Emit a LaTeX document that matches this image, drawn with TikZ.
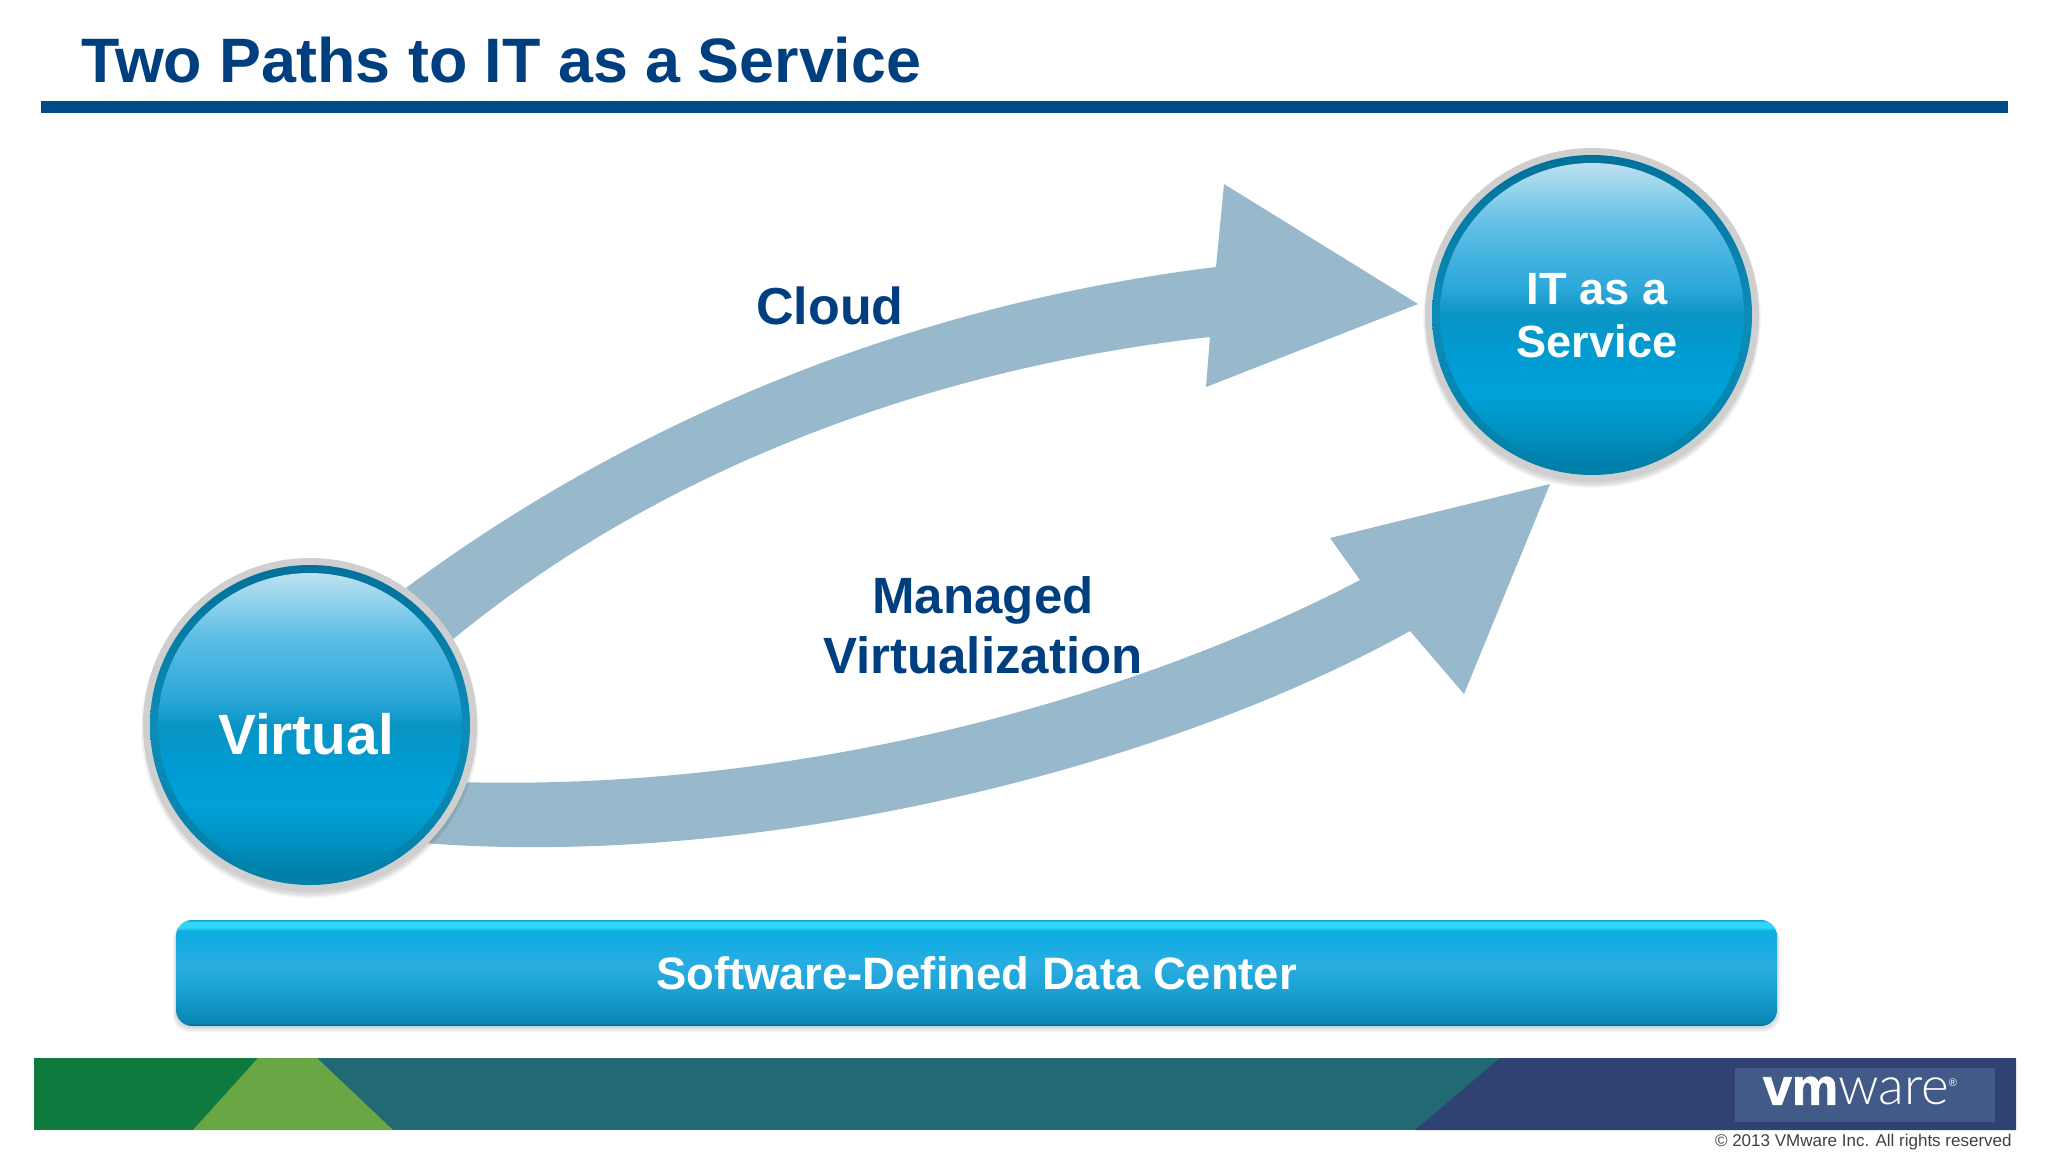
\documentclass[tikz,border=0pt]{standalone}
\usepackage{fontspec}
\setmainfont{Liberation Sans}
\newfontfamily\logolight{Lato Light}
\newfontfamily\logoheavy[FakeBold=1.5]{Liberation Sans Bold}
\usetikzlibrary{positioning, calc, backgrounds, fadings}
\definecolor{titleblue}{HTML}{003F7F}
\definecolor{ruleblue}{HTML}{004A87}
\definecolor{arrowblue}{HTML}{97B9CB}
\definecolor{ringgray}{HTML}{CFCFCF}
\definecolor{darkgreen}{HTML}{0F7A3D}
\definecolor{lightgreen}{HTML}{69A745}
\definecolor{bandteal}{HTML}{226A73}
\definecolor{bandnavy}{HTML}{2F4272}
\definecolor{plateblue}{HTML}{415A87}
% ball colours, bottom to top
\definecolor{ballA}{HTML}{007DA8}
\definecolor{ballB}{HTML}{008FBD}
\definecolor{ballC}{HTML}{00A1D9}
\definecolor{ballD}{HTML}{009BD1}
\definecolor{ballE}{HTML}{0A94C4}
\definecolor{ballF}{HTML}{29A6D9}
\definecolor{ballG}{HTML}{61BFE6}
\definecolor{ballH}{HTML}{8FD1EB}
\definecolor{ballI}{HTML}{BDE0F0}
\definecolor{rimA}{HTML}{007FA8}
\definecolor{rimB}{HTML}{0D8CB8}
\definecolor{rimC}{HTML}{007099}
% bar colours, bottom to top
\definecolor{barA}{HTML}{056B8F}
\definecolor{barB}{HTML}{0A85B3}
\definecolor{barC}{HTML}{1AA1D4}
\definecolor{barD}{HTML}{29ADE0}
\definecolor{barE}{HTML}{12ADE3}
\definecolor{barF}{HTML}{2ED6F8}
\definecolor{barG}{HTML}{14A0D0}
\pgfdeclareverticalshading{ballfill}{100bp}{color(0bp)=(ballA); color(25bp)=(ballA); color(30bp)=(ballB); color(37bp)=(ballC); color(44bp)=(ballD); color(50bp)=(ballE); color(54bp)=(ballF); color(65bp)=(ballG); color(70bp)=(ballH); color(75bp)=(ballI); color(100bp)=(ballI)}
\pgfdeclareverticalshading{rimfill}{100bp}{color(0bp)=(rimA); color(25bp)=(rimA); color(50bp)=(rimB); color(75bp)=(rimC); color(100bp)=(rimC)}
\pgfdeclareverticalshading{barfill}{100bp}{color(0bp)=(barA); color(25bp)=(barA); color(26.5bp)=(barB); color(42bp)=(barC); color(54bp)=(barD); color(66bp)=(barE); color(70bp)=(barE); color(71.5bp)=(barF); color(74bp)=(barF); color(75bp)=(barG); color(100bp)=(barG)}
\pgfdeclareradialshading{ballrimshade}{\pgfpointorigin}{color(0bp)=(transparent!100); color(40bp)=(transparent!100); color(50bp)=(transparent!60)}
\pgfdeclarefading{ballfade}{\pgfuseshading{ballrimshade}}
\tikzset{
  ball/.style={circle, inner sep=0pt, minimum size=167pt, fill=ringgray,
    path picture={
      \shade[shading=rimfill] (path picture bounding box.center) circle (80pt);
      \shade[shading=ballfill] (path picture bounding box.center) circle (76pt);
      \fill[rimC, path fading=ballfade, fading transform={yshift=14pt}] (path picture bounding box.center) circle (76pt);
    }},
  balltext/.style={text=white, align=center, inner sep=0pt},
  softshadow/.style={black, opacity=0.03},
  bandlabel/.style={text=titleblue, align=center},
}
\begin{document}
\begin{tikzpicture}[x=0.5pt, y=-0.5pt]
\useasboundingbox (0,0) rectangle (2048,1152);

% title
\node[right, inner sep=0pt, font=\fontsize{31.4}{36}\bfseries, text=titleblue] (title) at (81,60) {Two Paths to IT as a Service};
\fill[ruleblue] (41,101) rectangle (2008,113);

% circles
\node[ball] (virtual) at (310,725) {};
\node[ball] (itas) at (1592,315) {};
\node[balltext, font=\fontsize{28.4}{33}\bfseries] (virtuallabel) at (306,734) {Virtual};
\node[balltext, font=\fontsize{22.6}{26.5}\bfseries] (itaslabel) at (1597,316) {IT as a\\Service};
\coordinate (cloudtip) at (1418,304);
\coordinate (managedtip) at (1550,484);

% block arrows
\begin{scope}[on background layer]
\fill[arrowblue] (virtual.55) .. controls (660,400) and (945,300) .. (1216,267)
  -- (1224,184) -- (cloudtip) -- (1206,387) -- (1210,337)
  .. controls (980,362) and (690,445) .. (virtual.31) -- cycle;
\fill[arrowblue] (virtual.-20) .. controls (800,790) and (1130,700) .. (1360,580)
  -- (1330,538) -- (managedtip) -- (1464,694) -- (1410,631)
  .. controls (1160,770) and (760,868) .. (virtual.-45) -- cycle;
\foreach \k in {1,...,5} {
  \fill[softshadow] ($(virtual)+(0,4)$) circle ({164+\k});
  \fill[softshadow] ($(itas)+(0,4)$) circle ({164+\k});
}
\end{scope}

\node[bandlabel, font=\fontsize{26}{30}\bfseries] (cloud) at (830,306) {Cloud};
\node[bandlabel, font=\fontsize{25.5}{30}\bfseries] (managed) at (983,625) {Managed\\Virtualization};

% data center bar
\begin{scope}[on background layer]
\foreach \k in {1,...,5} {
  \fill[softshadow, rounded corners=8pt] (176-\k*0.6,924) rectangle (1777+\k*0.6,1027+\k);
}
\end{scope}
\node[shading=barfill, rounded corners=8pt, minimum width=800.5pt, minimum height=53pt, inner sep=0pt,
  text=white, font=\fontsize{22.7}{27}\bfseries] (sddc) at (976.5,973) {\raisebox{-2pt}{Software-Defined Data Center}};

% footer band
\fill[darkgreen] (34,1058) rectangle (400,1130);
\fill[bandteal] (300,1058) rectangle (1500,1130);
\fill[bandnavy] (1500,1058) -- (2016,1058) -- (2016,1130) -- (1415,1130) -- cycle;
\fill[lightgreen] (258,1058) -- (317,1058) -- (393,1130) -- (193,1130) -- cycle;
\node[fill=plateblue, minimum width=130pt, minimum height=27pt, inner sep=0pt] (plate) at (1865,1095) {};
\node[inner sep=0pt, text=white] (logo) at (1860,1091)
  {{\logoheavy\fontsize{26}{26}\selectfont vm}{\logolight\fontsize{26.5}{26}\selectfont ware}\raisebox{9pt}{\fontsize{5.5}{5}\selectfont ®}};
\node[left, inner sep=0pt, font=\fontsize{8.5}{10}\selectfont, text=black!75] (copyright) at (2012,1142) {© 2013 VMware Inc. All rights reserved};
\end{tikzpicture}
\end{document}
